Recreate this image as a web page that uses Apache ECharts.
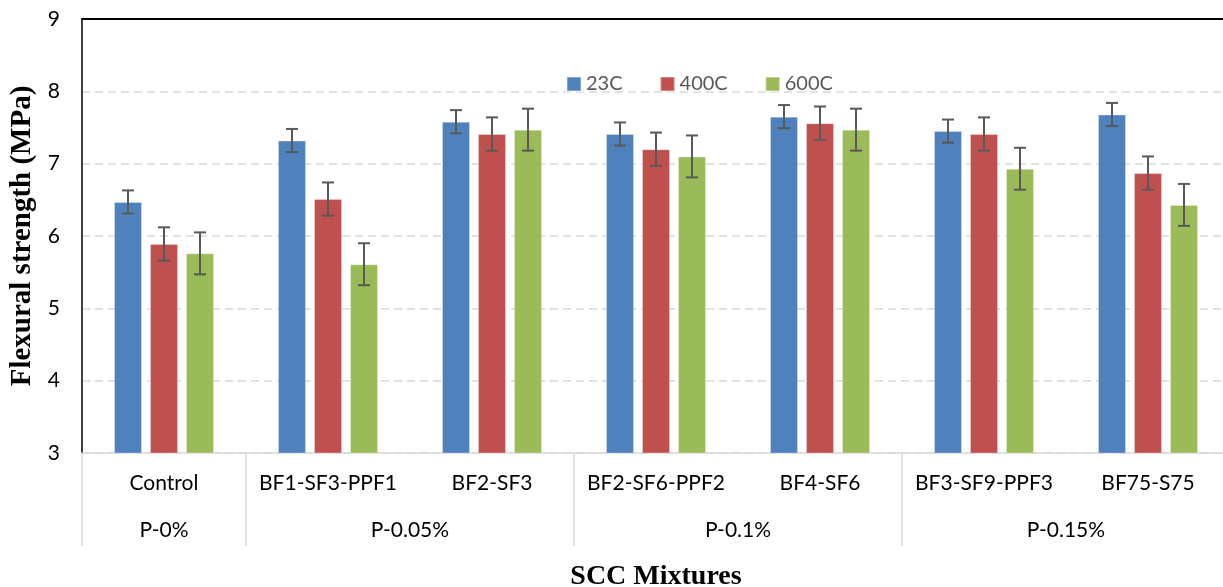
<!DOCTYPE html>
<html>
<head>
<meta charset="utf-8">
<title>Flexural strength of SCC mixtures</title>
<script src="https://cdn.jsdelivr.net/npm/echarts@6/dist/echarts.min.js"></script>
<style>
  html, body { margin: 0; padding: 0; background: #ffffff; }
  #chart { width: 1223px; height: 587px; }
</style>
</head>
<body>
<div id="chart"></div>
<script>
// Mixtures on the first category row
const categories = ['Control', 'BF1-SF3-PPF1', 'BF2-SF3', 'BF2-SF6-PPF2', 'BF4-SF6', 'BF3-SF9-PPF3', 'BF75-S75'];
// Polypropylene dosage groups on the second row, and how many mixtures each spans
const groupNames = ['P-0%', 'P-0.05%', 'P-0.1%', 'P-0.15%'];
const groupSpans = [1, 2, 2, 2];

const seriesNames = ['23C', '400C', '600C'];

// Mean flexural strength (MPa)
const strength23 = [6.47, 7.32, 7.58, 7.41, 7.65, 7.45, 7.68];
const strength400 = [5.89, 6.51, 7.41, 7.20, 7.56, 7.41, 6.87];
const strength600 = [5.76, 5.61, 7.47, 7.10, 7.47, 6.93, 6.43];

// Standard deviation (MPa)
const error23 = [0.16, 0.16, 0.16, 0.16, 0.16, 0.16, 0.16];
const error400 = [0.23, 0.23, 0.23, 0.23, 0.23, 0.23, 0.23];
const error600 = [0.29, 0.29, 0.29, 0.29, 0.29, 0.29, 0.29];

const yTicks = [3, 4, 5, 6, 7, 8, 9];

const colors = ['#4F81BD', '#C0504D', '#9BBB59'];
const means = [strength23, strength400, strength600];
const errors = [error23, error400, error600];

const BAR_W = 28;
const BAR_GAP = 8;

// Group boundaries and centres along a 0..N scale of the category band
const boundaries = [0];
groupSpans.forEach(s => boundaries.push(boundaries[boundaries.length - 1] + s));
const groupCentres = groupSpans.map((s, i) => boundaries[i] + s / 2);

const sansFont = 'Lato, "Noto Sans", sans-serif';
const serifFont = '"Liberation Serif", "DejaVu Serif", serif';

const chart = echarts.init(document.getElementById('chart'), null, { renderer: 'canvas' });

const barSeries = seriesNames.map((name, k) => ({
  name: name,
  type: 'bar',
  xAxisIndex: 0,
  yAxisIndex: 0,
  data: means[k],
  barWidth: BAR_W,
  barGap: (BAR_GAP / BAR_W * 100) + '%',
  itemStyle: { color: colors[k], borderColor: 'rgba(255,255,255,0.3)', borderWidth: 1 },
  z: 2
}));

// Error bars drawn through the same axes, shifted to each bar's slot
const errorSeries = seriesNames.map((name, k) => ({
  name: name + ' error',
  type: 'custom',
  xAxisIndex: 0,
  yAxisIndex: 0,
  data: means[k].map((m, i) => [i, m - errors[k][i], m + errors[k][i]]),
  renderItem: function (params, api) {
    const idx = api.value(0);
    const lo = api.coord([idx, api.value(1)]);
    const hi = api.coord([idx, api.value(2)]);
    const x = lo[0] + (k - 1) * (BAR_W + BAR_GAP);
    const cap = 6;
    const style = { stroke: '#595959', lineWidth: 2 };
    return {
      type: 'group',
      children: [
        { type: 'line', shape: { x1: x, y1: lo[1], x2: x, y2: hi[1] }, style: style },
        { type: 'line', shape: { x1: x - cap, y1: hi[1], x2: x + cap, y2: hi[1] }, style: style },
        { type: 'line', shape: { x1: x - cap, y1: lo[1], x2: x + cap, y2: lo[1] }, style: style }
      ]
    };
  },
  encode: { x: 0, y: [1, 2] },
  silent: true,
  z: 5
}));

const option = {
  backgroundColor: '#ffffff',
  animation: false,
  color: colors,
  grid: { left: 82, top: 19, width: 1148, height: 434, containLabel: false, outerBoundsMode: 'none' },
  legend: {
    data: seriesNames,
    left: 561,
    top: 69,
    itemWidth: 14,
    itemHeight: 14,
    itemGap: 37,
    icon: 'rect',
    textStyle: { fontFamily: sansFont, fontSize: 20, color: '#595959', padding: [0, 0, 0, 0] }
  },
  xAxis: [
    {
      type: 'category',
      data: categories,
      position: 'bottom',
      axisLine: { show: true, lineStyle: { color: '#d9d9d9', width: 1.5 } },
      axisTick: { show: false },
      axisLabel: { fontFamily: sansFont, fontSize: 21, color: '#000000', margin: 20, interval: 0 },
      splitLine: { show: false },
      name: 'SCC Mixtures',
      nameLocation: 'middle',
      nameGap: 110,
      nameTextStyle: { fontFamily: serifFont, fontSize: 28, fontWeight: 'bold', color: '#000000', verticalAlign: 'top' }
    },
    {
      // second row: dosage groups and their separators
      type: 'value',
      position: 'bottom',
      min: 0,
      max: categories.length,
      axisLine: { show: false },
      axisTick: {
        show: true,
        customValues: boundaries,
        length: 93,
        lineStyle: { color: '#d9d9d9', width: 1.5 }
      },
      axisLabel: {
        show: true,
        customValues: groupCentres,
        formatter: function (v) {
          const i = groupCentres.indexOf(v);
          return i >= 0 ? groupNames[i] : '';
        },
        fontFamily: sansFont,
        fontSize: 21,
        color: '#000000',
        margin: 67
      },
      splitLine: { show: false }
    },
    {
      // top frame line
      type: 'category',
      data: categories,
      position: 'top',
      axisLine: { show: true, lineStyle: { color: '#000000', width: 2 } },
      axisTick: { show: false },
      axisLabel: { show: false },
      splitLine: { show: false }
    }
  ],
  yAxis: [
    {
      type: 'value',
      min: yTicks[0],
      max: yTicks[yTicks.length - 1],
      interval: 1,
      axisLine: { show: true, lineStyle: { color: '#000000', width: 1.5 } },
      axisTick: { show: false },
      axisLabel: { fontFamily: sansFont, fontSize: 21, color: '#000000', margin: 22 },
      splitLine: { show: true, lineStyle: { color: '#d9d9d9', width: 1.5, type: [8, 5] } },
      name: 'Flexural strength (MPa)',
      nameLocation: 'middle',
      nameGap: 38,
      nameRotate: 90,
      nameTextStyle: { fontFamily: serifFont, fontSize: 29, fontWeight: 'bold', color: '#000000' }
    }
  ],
  series: barSeries.concat(errorSeries)
};

chart.setOption(option);
</script>
</body>
</html>
